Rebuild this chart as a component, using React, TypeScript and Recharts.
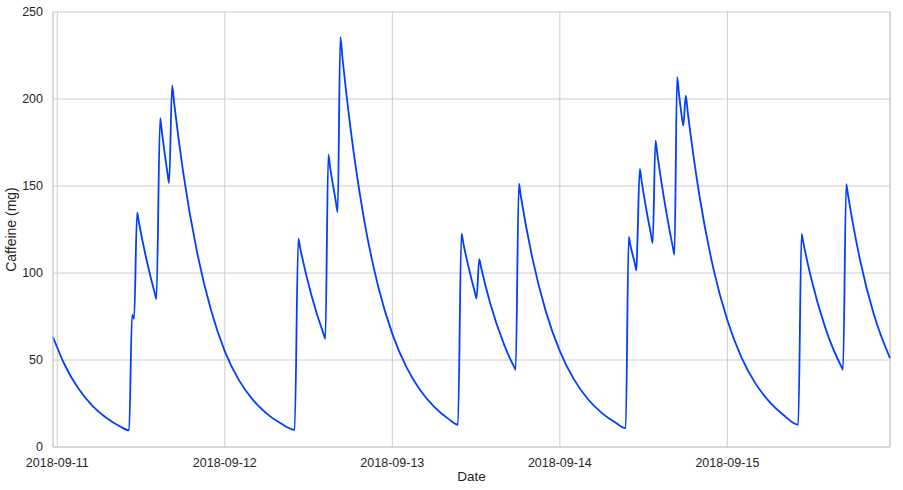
import { LineChart, Line, XAxis, YAxis, CartesianGrid, ReferenceLine, Label } from "recharts";

// caffeine level, one reading per timestamp (UTC)
const times = [
  "2018-09-10 23:23", "2018-09-11 01:00", "2018-09-11 03:00", "2018-09-11 05:00", "2018-09-11 07:00",
  "2018-09-11 09:00", "2018-09-11 10:17", "2018-09-11 10:43", "2018-09-11 11:00", "2018-09-11 11:26",
  "2018-09-11 11:42", "2018-09-11 12:48", "2018-09-11 13:57", "2018-09-11 14:12", "2018-09-11 14:44",
  "2018-09-11 15:00", "2018-09-11 15:46", "2018-09-11 16:01", "2018-09-11 16:27", "2018-09-11 16:45",
  "2018-09-11 18:00", "2018-09-11 20:00", "2018-09-11 22:00", "2018-09-12 00:00", "2018-09-12 02:00",
  "2018-09-12 04:00", "2018-09-12 06:00", "2018-09-12 08:00", "2018-09-12 10:00", "2018-09-12 10:32",
  "2018-09-12 10:48", "2018-09-12 12:24", "2018-09-12 14:09", "2018-09-12 14:24", "2018-09-12 14:50",
  "2018-09-12 15:06", "2018-09-12 15:55", "2018-09-12 16:10", "2018-09-12 16:33", "2018-09-12 16:51",
  "2018-09-12 18:00", "2018-09-12 20:00", "2018-09-12 22:00", "2018-09-13 00:00", "2018-09-13 02:00",
  "2018-09-13 04:00", "2018-09-13 06:00", "2018-09-13 08:00", "2018-09-13 09:24", "2018-09-13 09:54",
  "2018-09-13 10:12", "2018-09-13 11:00", "2018-09-13 11:49", "2018-09-13 12:04", "2018-09-13 12:27",
  "2018-09-13 12:45", "2018-09-13 14:00", "2018-09-13 16:00", "2018-09-13 17:25", "2018-09-13 17:40",
  "2018-09-13 18:08", "2018-09-13 18:24", "2018-09-13 20:00", "2018-09-13 22:00", "2018-09-14 00:00",
  "2018-09-14 02:00", "2018-09-14 04:00", "2018-09-14 06:00", "2018-09-14 08:00", "2018-09-14 09:26",
  "2018-09-14 09:52", "2018-09-14 10:06", "2018-09-14 10:43", "2018-09-14 10:58", "2018-09-14 11:07",
  "2018-09-14 11:27", "2018-09-14 11:45", "2018-09-14 12:24", "2018-09-14 13:03", "2018-09-14 13:18",
  "2018-09-14 13:42", "2018-09-14 14:00", "2018-09-14 15:00", "2018-09-14 16:10", "2018-09-14 16:25",
  "2018-09-14 16:48", "2018-09-14 17:03", "2018-09-14 17:27", "2018-09-14 17:42", "2018-09-14 18:02",
  "2018-09-14 18:21", "2018-09-14 20:00", "2018-09-14 22:00", "2018-09-15 00:00", "2018-09-15 02:00",
  "2018-09-15 04:00", "2018-09-15 06:00", "2018-09-15 08:00", "2018-09-15 10:09", "2018-09-15 10:38",
  "2018-09-15 10:54", "2018-09-15 12:00", "2018-09-15 14:00", "2018-09-15 16:19", "2018-09-15 16:34",
  "2018-09-15 17:02", "2018-09-15 17:18", "2018-09-15 19:00", "2018-09-15 21:00", "2018-09-15 23:18",
];

const caffeine = [
  63.2, 47.7, 33.7, 23.8, 16.8,
  11.8, 9.5, 76.0, 73.6, 134.8,
  128.9, 107.3, 88.6, 85.0, 189.0,
  180.5, 158.0, 151.7, 207.8, 197.3,
  158.9, 112.4, 79.0, 55.0, 38.6,
  27.2, 19.2, 13.6, 9.9, 119.7,
  114.3, 87.3, 64.9, 62.2, 168.0,
  160.4, 140.8, 135.0, 235.6, 223.7,
  183.4, 129.7, 91.8, 65.0, 46.0,
  32.6, 23.1, 16.3, 12.8, 122.6,
  116.5, 102.0, 89.1, 85.4, 108.0,
  102.6, 82.9, 59.0, 46.3, 44.4,
  151.3, 144.4, 109.7, 77.8, 55.1,
  39.0, 27.6, 19.6, 13.9, 10.9,
  120.7, 116.1, 105.9, 101.5, 118.5,
  159.8, 151.8, 136.2, 122.3, 117.2,
  176.0, 167.2, 141.0, 115.3, 110.5,
  212.6, 203.7, 190.5, 184.8, 201.9,
  191.4, 144.4, 102.5, 72.8, 51.7,
  36.7, 26.1, 18.5, 12.8, 122.4,
  117.0, 97.1, 68.9, 46.3, 44.4,
  151.1, 144.5, 107.6, 76.0, 51.1,
];

const dateTicks = ["2018-09-11", "2018-09-12", "2018-09-13", "2018-09-14", "2018-09-15"];
const yTicks = [0, 50, 100, 150, 200, 250];

const toMs = (s: string) => Date.parse(s.replace(" ", "T") + ":00Z");

const data = times.map((t, i) => ({ t: toMs(t), mg: caffeine[i] }));
const xTicks = dateTicks.map((d) => toMs(d + " 00:00"));
const xMax = data[data.length - 1].t;

const GRID = "#cccccc";
const TEXT = "#262626";
const FONT = "'Liberation Sans', Arial, sans-serif";

export default function App() {
  return (
    <div style={{ position: "absolute", left: 0, top: 0, background: "#fff", fontFamily: FONT }}>
      <LineChart width={903} height={490} data={data} margin={{ top: 12, right: 13, left: 0, bottom: 0 }}>
        <CartesianGrid stroke={GRID} strokeWidth={1} />
        <XAxis
          dataKey="t"
          type="number"
          scale="time"
          domain={["dataMin", "dataMax"]}
          ticks={xTicks}
          tickFormatter={(v: number) => new Date(v).toISOString().slice(0, 10)}
          tickLine={false}
          tickMargin={5}
          axisLine={{ stroke: GRID }}
          tick={{ fill: TEXT, fontSize: 12.5, fontFamily: FONT }}
          height={43}
        >
          <Label value="Date" position="insideBottom" offset={9} fill={TEXT} fontSize={13.5} fontFamily={FONT} />
        </XAxis>
        <YAxis
          type="number"
          domain={[0, 250]}
          ticks={yTicks}
          tickLine={false}
          tickMargin={4}
          axisLine={{ stroke: GRID }}
          tick={{ fill: TEXT, fontSize: 12.5, fontFamily: FONT }}
          width={53}
        >
          <Label value="Caffeine (mg)" angle={-90} position="insideLeft" offset={11} fill={TEXT} fontSize={14} fontFamily={FONT} style={{ textAnchor: "middle" }} />
        </YAxis>
        <ReferenceLine x={xMax} stroke={GRID} />
        <Line
          type="monotone"
          dataKey="mg"
          stroke="#023eff"
          strokeWidth={1.8}
          dot={false}
          isAnimationActive={false}
        />
      </LineChart>
    </div>
  );
}
